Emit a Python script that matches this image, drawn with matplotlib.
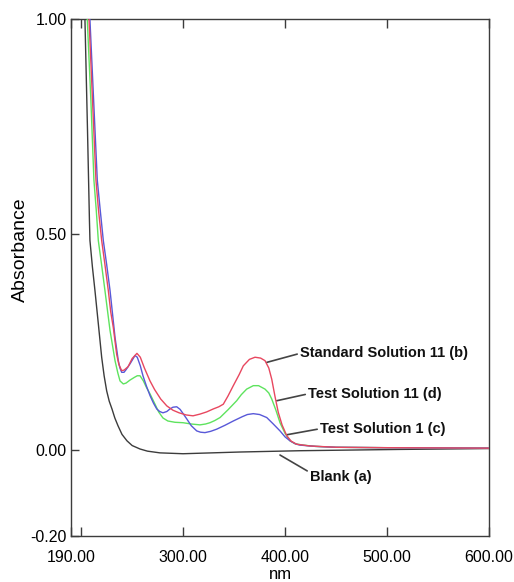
import numpy as np
import matplotlib
matplotlib.use("Agg")
import matplotlib.pyplot as plt

plt.rcParams['font.family'] = ['Liberation Sans', 'DejaVu Sans']

# blank (a)
BLANK_NM = [200, 203.7, 206.2, 208.1, 208.6, 211, 213.5, 216.8, 220.1, 222.5, 225, 227.5,
            230.2, 233, 236.1, 240, 244.9, 250, 257.7, 265, 277.3, 299.9, 355.8, 414.6,
            512.7, 600]
BLANK_ABS = [1.47, 0.998, 0.742, 0.533, 0.486, 0.425, 0.370, 0.293, 0.215, 0.172, 0.137, 0.113,
             0.095, 0.074, 0.056, 0.036, 0.021, 0.010, 0.002, -0.003, -0.007, -0.009, -0.005, -0.002,
             0.001, 0.003]

# standard solution 11 (b)
STD_NM = [200, 207.7, 211.1, 214.5, 217, 220.1, 223.3, 226.6, 229, 231.5, 234.8, 237, 239.7,
          242, 246, 250, 254.7, 258, 262, 267.5, 272, 278, 284, 290, 296, 303, 309.7,
          316.5, 323, 329.6, 335, 339.4, 344, 349.2, 355, 359, 365, 370.5, 376, 380.3,
          384, 386.9, 390, 393.3, 397, 401.6, 406, 411.4, 424.4, 450, 500, 600]
STD_ABS = [1.48, 0.998, 0.812, 0.626, 0.556, 0.486, 0.430, 0.370, 0.320, 0.284, 0.222, 0.198, 0.184,
           0.185, 0.193, 0.212, 0.224, 0.215, 0.190, 0.160, 0.140, 0.118, 0.102, 0.092, 0.086, 0.081, 0.079,
           0.083, 0.088, 0.095, 0.100, 0.106, 0.125, 0.149, 0.175, 0.195, 0.210, 0.215, 0.213, 0.207,
           0.190, 0.164, 0.125, 0.087, 0.058, 0.033, 0.020, 0.013, 0.009, 0.006, 0.005, 0.004]

# test solution 1 (c)
TEST1_NM = [200, 208.6, 212.2, 215.8, 218.7, 221.7, 225, 228.3, 231, 233.2, 236.4, 238, 239.7,
            242, 244, 248, 252.8, 255, 258, 260.6, 264, 267.5, 271, 274.1, 277, 280.2, 284,
            287.1, 290, 293.7, 297, 300, 303.5, 308, 313.3, 317, 321.4, 327, 332.9, 341,
            349.2, 358, 363, 368.8, 375, 382, 388, 395, 400, 404.8, 410, 414.6, 430, 450,
            500, 600]
TEST1_ABS = [1.37, 0.998, 0.812, 0.626, 0.556, 0.486, 0.430, 0.370, 0.310, 0.261, 0.207, 0.190, 0.180,
             0.180, 0.186, 0.200, 0.219, 0.215, 0.195, 0.172, 0.148, 0.126, 0.108, 0.095, 0.089, 0.086, 0.089,
             0.095, 0.099, 0.100, 0.094, 0.084, 0.072, 0.056, 0.044, 0.041, 0.040, 0.043, 0.048, 0.057,
             0.067, 0.077, 0.082, 0.084, 0.082, 0.075, 0.061, 0.044, 0.030, 0.021, 0.014, 0.011, 0.008, 0.006,
             0.005, 0.004]

# test solution 11 (d)
TEST11_NM = [200, 206, 209.5, 212.5, 214.8, 216.8, 220, 223.3, 228.3, 233.2, 236, 238.1, 241.3,
             244, 247.9, 252, 255, 257.7, 261, 264, 267.5, 272, 276, 280.2, 285, 292, 299.9,
             308, 316.5, 322, 326.3, 331, 336.2, 344, 352.5, 357, 362.3, 368.8, 374, 380.3,
             384, 386.9, 391, 395, 400, 404.8, 410, 417.6, 430, 450, 500, 600]
TEST11_ABS = [1.45, 0.998, 0.812, 0.626, 0.556, 0.486, 0.430, 0.370, 0.277, 0.207, 0.178, 0.160, 0.153,
              0.155, 0.162, 0.168, 0.172, 0.172, 0.160, 0.145, 0.130, 0.108, 0.088, 0.074, 0.067, 0.064, 0.063,
              0.060, 0.058, 0.060, 0.063, 0.068, 0.075, 0.093, 0.114, 0.128, 0.141, 0.149, 0.149, 0.141,
              0.132, 0.118, 0.092, 0.063, 0.038, 0.021, 0.014, 0.011, 0.008, 0.006, 0.005, 0.004]

X_TICKS = [190, 300, 400, 500, 600]
X_LABELS = ["190.00", "300.00", "400.00", "500.00", "600.00"]
Y_TICKS = [-0.2, 0.0, 0.5, 1.0]
Y_LABELS = ["-0.20", "0.00", "0.50", "1.00"]

AXIS_COLOR = "#3c3c3c"


def add_label(ax, text, xy, xytext, relpos=(0, 0.5)):
    """Bold label joined to its curve with a plain line"""

    ax.annotate(text, xy=xy, xytext=xytext, fontsize=10.5, fontweight="bold",
                ha="left", va="center", color="#111111",
                arrowprops=dict(arrowstyle="-", color="#444444", lw=1.2,
                                relpos=relpos, shrinkA=0, shrinkB=0))


fig = plt.figure(figsize=(5.14, 5.82), dpi=100)
ax = fig.add_axes([0.1381, 0.0790, 0.8133, 0.8883])

ax.plot(BLANK_NM, BLANK_ABS, color="#3c3c3c", lw=1.0, zorder=2)
ax.plot(TEST11_NM, TEST11_ABS, color="#5ee35e", lw=1.0, zorder=3)
ax.plot(TEST1_NM, TEST1_ABS, color="#5858d8", lw=1.0, zorder=4)
ax.plot(STD_NM, STD_ABS, color="#e8475f", lw=1.0, zorder=5)

ax.set_xlim(190, 600)
ax.set_ylim(-0.2, 1.0)

# ticks point into the box, 190 label sits on the left edge
ax.set_xticks(X_TICKS, X_LABELS)
ax.set_xticks([200], minor=True)
ax.set_yticks(Y_TICKS, Y_LABELS)
ax.tick_params(axis="x", which="both", direction="in", length=6.5, width=1.0,
               top=True, pad=10, labelsize=11.5, color=AXIS_COLOR)
ax.tick_params(axis="y", direction="in", length=6, width=1.0, pad=3,
               labelsize=11.5, color=AXIS_COLOR)
for spine in ax.spines.values():
    spine.set_color(AXIS_COLOR)
    spine.set_linewidth(1.0)

# x label sits at the very bottom of the picture
ax.set_xlabel("nm", fontsize=12, va="bottom")
ax.xaxis.set_label_coords(0.5, -0.088)
ax.set_ylabel("Absorbance", fontsize=14, va="center")
ax.yaxis.set_label_coords(-0.122, 0.553)

add_label(ax, "Standard Solution 11 (b)", (382, 0.203), (414.6, 0.224))
add_label(ax, "Test Solution 11 (d)", (391.8, 0.114), (422.5, 0.130))
add_label(ax, "Test Solution 1 (c)", (401.6, 0.035), (434.2, 0.049))
add_label(ax, "Blank (a)", (395, -0.012), (424.4, -0.064), relpos=(0, 0.85))

fig.savefig("out.png", dpi=100)
plt.close(fig)
